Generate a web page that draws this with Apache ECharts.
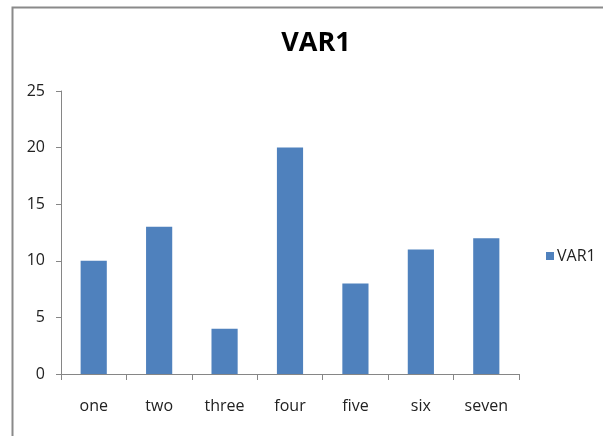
<!DOCTYPE html>
<html>
<head>
<meta charset="utf-8">
<script src="https://cdn.jsdelivr.net/npm/echarts@6/dist/echarts.min.js"></script>
<style>html,body{margin:0;padding:0;background:#fff}#c{width:603px;height:436px}</style>
</head>
<body>
<div id="c"></div>
<script>
const categories = ['one', 'two', 'three', 'four', 'five', 'six', 'seven'];
const var1Values = [10, 13, 4, 20, 8, 11, 12];
const seriesName = 'VAR1';
const titleText = 'VAR1';

const FONT = '"Open Sans", sans-serif';
const chart = echarts.init(document.getElementById('c'), null, {renderer: 'canvas'});
chart.setOption({
  animation: false,
  backgroundColor: '#fff',
  graphic: [{
    type: 'rect', left: 10, top: 5, shape: {width: 700, height: 600},
    style: {fill: 'none', stroke: '#8a8a8a', lineWidth: 2}, z: -1
  }],
  title: {
    text: titleText, left: 311, textAlign: 'center', top: 25,
    textStyle: {fontFamily: FONT, fontSize: 27, fontWeight: 'bold', color: '#000'}
  },
  legend: {
    data: [seriesName], left: 541, top: 243, orient: 'vertical',
    itemWidth: 8, itemHeight: 8, itemGap: 5, icon: 'rect',
    textStyle: {fontFamily: FONT, fontSize: 16, color: '#222', padding: [0, 0, 0, -2]}
  },
  grid: {left: 61, right: 84, top: 91, bottom: 62, containLabel: false},
  xAxis: {
    type: 'category', data: categories,
    axisLine: {lineStyle: {color: '#868686', width: 1}},
    axisTick: {show: true, length: 6, lineStyle: {color: '#868686'}},
    axisLabel: {fontFamily: FONT, fontSize: 16, color: '#222', margin: 24}
  },
  yAxis: {
    type: 'value', min: 0, max: 25, interval: 5,
    axisLine: {show: true, lineStyle: {color: '#868686', width: 1}},
    axisTick: {show: true, length: 5, lineStyle: {color: '#868686'}},
    splitLine: {show: false},
    axisLabel: {fontFamily: FONT, fontSize: 16, color: '#222', margin: 16}
  },
  series: [{
    name: seriesName, type: 'bar', data: var1Values,
    barWidth: '40%', itemStyle: {color: '#4F81BD'}
  }]
});
</script>
</body>
</html>
